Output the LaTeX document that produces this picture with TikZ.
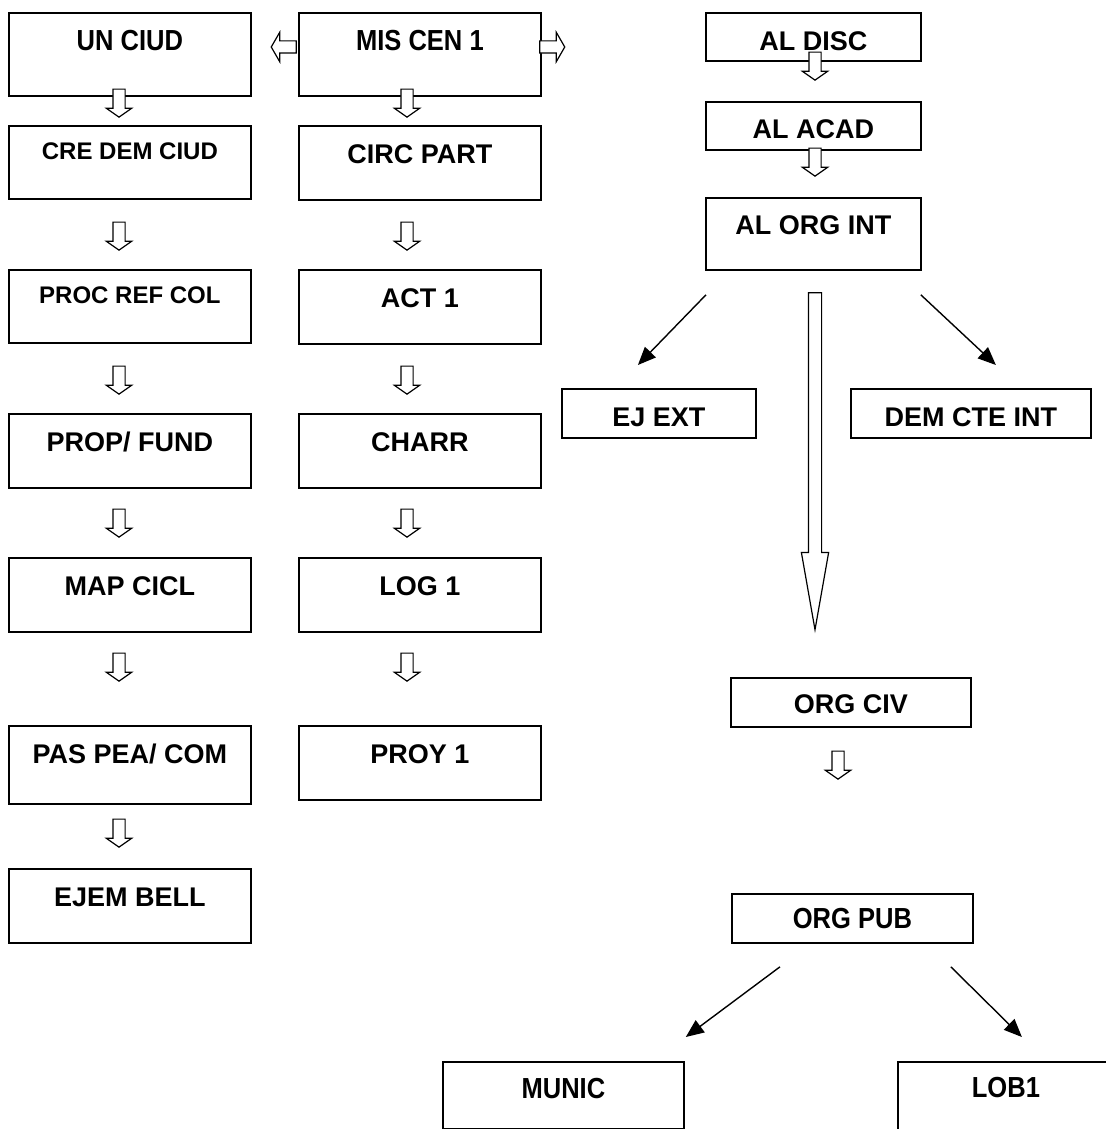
\documentclass[tikz,border=0pt]{standalone}
\usepackage{fontspec}
\setmainfont{Liberation Sans}
\newfontfamily\narrowfont[FakeStretch=0.88]{Liberation Sans}
\usetikzlibrary{arrows.meta, shapes.arrows}

\begin{document}
\begin{tikzpicture}[
        x=0.5pt, y=-0.5pt,
        box/.style={draw, line width=0.9pt, inner sep=0pt, anchor=north west, text height=19pt, text depth=#1, font=\bfseries\fontsize{13.5}{16}\selectfont},
        box/.default=18pt,
        lbox/.style={box=#1, minimum width=121pt},
        lbox/.default=18pt,
        rbox/.style={box=#1, minimum width=107.5pt},
        rbox/.default=18pt,
        small/.style={font=\bfseries\fontsize{12}{14}\selectfont, text height=17pt, text depth=19.5pt},
        narrow/.style={font=\narrowfont\bfseries\fontsize{14.5}{17}\selectfont},
        darr/.style={single arrow, draw, fill=white, line width=0.6pt, inner sep=2.75pt, minimum width=12pt, minimum height=14pt, single arrow head extend=3.25pt, single arrow tip angle=110, shape border rotate=270},
        harr/.style={single arrow, draw, fill=white, line width=0.6pt, inner sep=2.75pt, minimum width=14pt, minimum height=12.5pt, single arrow head extend=4.25pt, single arrow tip angle=120, shape border rotate=#1},
        bigarr/.style={single arrow, draw, fill=white, line width=0.6pt, inner sep=3pt, minimum width=13pt, minimum height=168.5pt, single arrow head extend=3.5pt, single arrow tip angle=20, shape border rotate=270},
        diag/.style={-{Triangle[length=9pt,width=7.5pt]}, line width=0.7pt}
    ]
        \useasboundingbox (0,0) rectangle (1106,1129);
        \clip (0,0) rectangle (1106,1129);

        % columna izquierda y central
        \node[lbox=22.5pt, narrow] (unciud) at (8,12) {UN CIUD};
        \node[lbox=22.5pt, narrow] (miscen) at (298,12) {MIS CEN 1};
        \node[lbox, small] (credem) at (8,125) {CRE DEM CIUD};
        \node[lbox] (circpart) at (298,125) {CIRC PART};
        \node[lbox, small] (procref) at (8,269) {PROC REF COL};
        \node[lbox] (act) at (298,269) {ACT 1};
        \node[lbox] (propfund) at (8,413) {PROP/ FUND};
        \node[lbox] (charr) at (298,413) {CHARR};
        \node[lbox] (mapcicl) at (8,557) {MAP CICL};
        \node[lbox] (log) at (298,557) {LOG 1};
        \node[lbox=20pt] (paspea) at (8,725) {PAS PEA/ COM};
        \node[lbox] (proy) at (298,725) {PROY 1};
        \node[lbox] (ejem) at (8,868) {EJEM BELL};

        \node[harr=180] (hl) at (285.5,47) {};
        \node[harr=0] (hr) at (550.5,47) {};

        \foreach \y [count=\i] in {101,234,378,521,665,831}
            \node[darr] (dl\i) at (119,\y) {};
        \foreach \y [count=\i] in {101,234,378,521,665}
            \node[darr] (dm\i) at (407,\y) {};

        % columna derecha
        \node[rbox=5pt] (aldisc) at (705,12) {AL DISC};
        \node[rbox=5.5pt, text height=18.5pt] (alacad) at (705,101) {AL ACAD};
        \node[rbox=17.5pt, text height=18.5pt] (alorg) at (705,197) {AL ORG INT};
        \node[box=5.5pt, minimum width=97pt] (ejext) at (561,388) {EJ EXT};
        \node[box=5.5pt, minimum width=120pt] (demcte) at (850,388) {DEM CTE INT};
        \node[box=6.5pt, text height=18pt, minimum width=120pt] (orgciv) at (730,677) {ORG CIV};
        \node[box=7pt, text height=17.5pt, minimum width=120.5pt, narrow] (orgpub) at (731,893) {ORG PUB};
        \node[box=15pt, text height=18.5pt, minimum width=120.5pt, narrow] (munic) at (442,1061) {MUNIC};
        \node[box=19pt, text height=18pt, minimum width=108pt, narrow] (lobi) at (897,1061) {LOB1};

        \node[darr] (dr1) at (815,64) {};
        \node[darr] (dr2) at (815,160) {};
        \node[darr] (dr3) at (838,763) {};
        \node[bigarr] (big) at (815,442.5) {};

        \draw[diag] ([shift={(1,24)}]alorg.south west) -- ([shift={(-21,-23)}]ejext.north);
        \draw[diag] ([shift={(-1,24)}]alorg.south east) -- ([shift={(25,-23)}]demcte.north);
        \draw[diag] ([shift={(49,23)}]orgpub.south west) -- ([shift={(1,-24)}]munic.north east);
        \draw[diag] ([shift={(-23,23)}]orgpub.south east) -- ([shift={(16,-24)}]lobi.north);
    \end{tikzpicture}
\end{document}
